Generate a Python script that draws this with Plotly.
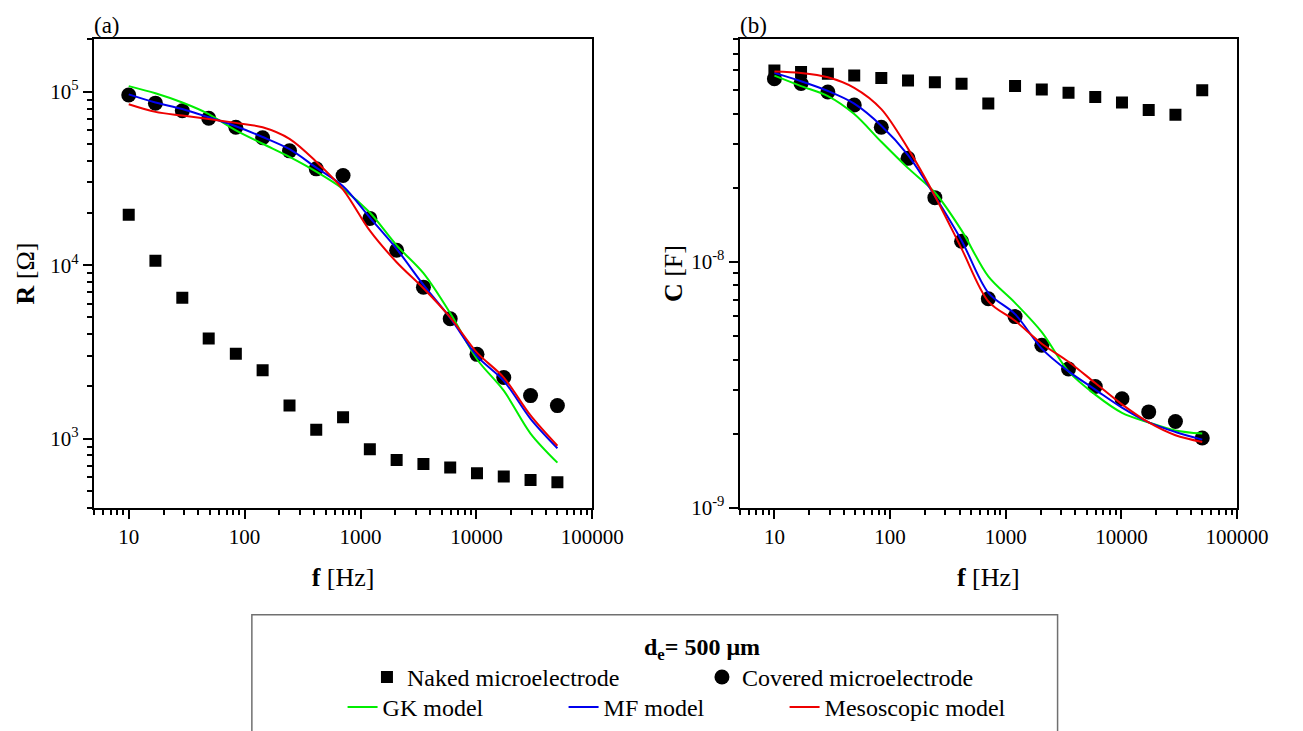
import math
import plotly.graph_objects as go

# ---------------- data ----------------
freq = [10, 17, 29, 49, 84, 143, 244, 415, 707, 1204, 2050, 3491, 5943, 10118, 17226, 29328, 50000]

# (a) resistance R [Ohm]
R_naked = [19500, 10600, 6480, 3775, 3090, 2480, 1550, 1126, 1330, 869, 752, 713, 682, 631, 604, 578, 561]
R_covered = [95700, 85900, 77600, 70300, 62400, 54300, 45600, 35900, 32900, 18600, 12200, 7470, 4910, 3060, 2250, 1770, 1550]
R_gk = [107700, 97900, 86600, 74300, 59800, 50100, 42100, 34600, 27500, 20100, 13000, 9000, 5290, 2870, 1890, 1070, 727]
R_mf = [96500, 86600, 79400, 71200, 63200, 54800, 46600, 36500, 28500, 18800, 12400, 7700, 4960, 2990, 2155, 1300, 880]
R_meso = [84700, 76500, 72800, 69600, 66100, 62400, 53500, 39500, 27300, 15800, 10400, 7360, 5000, 3130, 2250, 1360, 910]

# (b) capacitance C [F]
C_naked = [5.98e-8, 5.90e-8, 5.81e-8, 5.71e-8, 5.58e-8, 5.45e-8, 5.36e-8, 5.28e-8, 4.39e-8,
           5.17e-8, 5.01e-8, 4.86e-8, 4.67e-8, 4.43e-8, 4.13e-8, 3.95e-8, 4.97e-8]
C_covered = [5.54e-8, 5.30e-8, 4.89e-8, 4.33e-8, 3.52e-8, 2.63e-8, 1.82e-8, 1.21e-8, 7.07e-9,
             5.98e-9, 4.57e-9, 3.66e-9, 3.11e-9, 2.77e-9, 2.45e-9, 2.24e-9, 1.92e-9]
C_gk = [5.70e-8, 5.17e-8, 4.71e-8, 3.98e-8, 3.07e-8, 2.40e-8, 1.91e-8, 1.34e-8, 8.71e-9,
        6.8e-9, 5.17e-9, 3.58e-9, 2.88e-9, 2.43e-9, 2.22e-9, 2.06e-9, 2.0e-9]
C_mf = [5.85e-8, 5.41e-8, 4.94e-8, 4.39e-8, 3.57e-8, 2.71e-8, 1.85e-8, 1.22e-8, 7.47e-9,
        6.12e-9, 4.43e-9, 3.58e-9, 3.02e-9, 2.55e-9, 2.22e-9, 2.03e-9, 1.89e-9]
C_meso = [5.93e-8, 5.85e-8, 5.62e-8, 5.09e-8, 4.17e-8, 2.88e-8, 1.85e-8, 1.13e-8, 6.9e-9,
          5.75e-9, 4.64e-9, 3.92e-9, 3.21e-9, 2.63e-9, 2.22e-9, 1.97e-9, 1.85e-9]

x_tickvals = [10, 100, 1000, 10000, 100000]
x_ticktext = ["10", "100", "1000", "10000", "100000"]
Ra_tickvals = [1e3, 1e4, 1e5]
Ra_ticktext = ["10<sup>3</sup>", "10<sup>4</sup>", "10<sup>5</sup>"]
Cb_tickvals = [1e-9, 1e-8]
Cb_ticktext = ["10<sup>-9</sup>", "10<sup>-8</sup>"]

names = ["Naked microelectrode", "Covered microelectrode", "GK model", "MF model", "Mesoscopic model"]
legend_title = "<b>d<sub>e</sub>= 500 μm</b>"

# ---------------- style ----------------
W, H = 1303, 731
FONT = "Liberation Serif"
GREEN, BLUE, RED = "#00ee00", "#0000ee", "#ee0000"


def minor_vals(lo_exp, hi_exp, lo, hi):
    out = []
    for e in range(lo_exp, hi_exp + 1):
        for m in range(2, 10):
            v = m * 10 ** e
            if lo <= v <= hi:
                out.append(v)
    return out


x_minor = minor_vals(0, 4, 5, 100000)
Ra_minor = minor_vals(2, 5, 400, 2e5)
Cb_minor = minor_vals(-9, -8, 1e-9, 8e-8)

fig = go.Figure()

# panel (a)
fig.add_trace(go.Scatter(x=freq, y=R_naked, mode="markers", name=names[0],
                         marker=dict(symbol="square", size=12, color="black"),
                         xaxis="x", yaxis="y", legend="legend"))
fig.add_trace(go.Scatter(x=freq, y=R_covered, mode="markers", name=names[1],
                         marker=dict(symbol="circle", size=15, color="black"),
                         xaxis="x", yaxis="y", legend="legend"))
for vals, col, nm in [(R_gk, GREEN, names[2]), (R_mf, BLUE, names[3]), (R_meso, RED, names[4])]:
    fig.add_trace(go.Scatter(x=freq, y=vals, mode="lines", name=nm,
                             line=dict(color=col, width=2, shape="spline", smoothing=0.9),
                             xaxis="x", yaxis="y", legend="legend2"))

# panel (b)
fig.add_trace(go.Scatter(x=freq, y=C_naked, mode="markers", name=names[0], showlegend=False,
                         marker=dict(symbol="square", size=12, color="black"),
                         xaxis="x2", yaxis="y2"))
fig.add_trace(go.Scatter(x=freq, y=C_covered, mode="markers", name=names[1], showlegend=False,
                         marker=dict(symbol="circle", size=15, color="black"),
                         xaxis="x2", yaxis="y2"))
for vals, col, nm in [(C_gk, GREEN, names[2]), (C_mf, BLUE, names[3]), (C_meso, RED, names[4])]:
    fig.add_trace(go.Scatter(x=freq, y=vals, mode="lines", name=nm, showlegend=False,
                             line=dict(color=col, width=2, shape="spline", smoothing=0.9),
                             xaxis="x2", yaxis="y2"))

xa_dom = [88 / W, 599 / W]
xb_dom = [750 / W, 1260 / W]
y_dom = [1 - 508 / H, 1 - 32 / H]
x_range = [math.log10(5), 5]
Ra_range = [math.log10(400), math.log10(2e5)]
Cb_range = [-9, math.log10(8e-8)]

tickfont = dict(family=FONT, size=21, color="black")
titlefont = dict(family=FONT, size=26, color="black")


def main_axis(domain, anchor, rng, tv, tt, minor, title, standoff):
    return dict(domain=domain, anchor=anchor, type="log", range=rng,
                tickmode="array", tickvals=tv, ticktext=tt, tickfont=tickfont,
                ticks="outside", ticklen=9, tickwidth=1.5, tickcolor="black",
                minor=dict(tickmode="array", tickvals=minor, ticks="outside", ticklen=5,
                           tickwidth=1.5, tickcolor="black", showgrid=False),
                showline=True, linewidth=2, linecolor="black", mirror=True,
                showgrid=False, zeroline=False,
                title=dict(text=title, font=titlefont, standoff=standoff))


def mirror_axis(overlay, anchor, side, rng, tv, minor):
    return dict(overlaying=overlay, anchor=anchor, side=side, type="log", range=rng,
                tickmode="array", tickvals=tv, showticklabels=False,
                ticks="inside", ticklen=9, tickwidth=1.5, tickcolor="black",
                minor=dict(tickmode="array", tickvals=minor, ticks="inside", ticklen=5,
                           tickwidth=1.5, tickcolor="black", showgrid=False),
                showline=False, showgrid=False, zeroline=False)


fig.update_layout(
    width=W, height=H,
    margin=dict(l=0, r=0, t=0, b=0),
    paper_bgcolor="white", plot_bgcolor="white",
    font=dict(family=FONT, color="black"),
    xaxis=main_axis(xa_dom, "y", x_range, x_tickvals, x_ticktext, x_minor, "<b>f</b> [Hz]", 20),
    yaxis=main_axis(y_dom, "x", Ra_range, Ra_tickvals, Ra_ticktext, Ra_minor, "<b>R</b> [Ω]", 8),
    xaxis2=main_axis(xb_dom, "y2", x_range, x_tickvals, x_ticktext, x_minor, "<b>f</b> [Hz]", 20),
    yaxis2=main_axis(y_dom, "x2", Cb_range, Cb_tickvals, Cb_ticktext, Cb_minor, "<b>C</b> [F]", 1),
    xaxis3=mirror_axis("x", "y", "top", x_range, x_tickvals, x_minor),
    yaxis3=mirror_axis("y", "x", "right", Ra_range, Ra_tickvals, Ra_minor),
    xaxis4=mirror_axis("x2", "y2", "top", x_range, x_tickvals, x_minor),
    yaxis4=mirror_axis("y2", "x2", "right", Cb_range, Cb_tickvals, Cb_minor),
    legend=dict(orientation="h", x=368 / W, xanchor="left", y=1 - 626 / H, yanchor="top",
                entrywidth=290, entrywidthmode="pixels",
                title=dict(text=legend_title, side="top center", font=dict(family=FONT, size=24)),
                font=dict(family=FONT, size=24, color="black"),
                bgcolor="rgba(0,0,0,0)", borderwidth=0),
    legend2=dict(orientation="h", x=343 / W, xanchor="left", y=1 - 711 / H, yanchor="middle",
                 entrywidth=176, entrywidthmode="pixels",
                 font=dict(family=FONT, size=24, color="black"),
                 bgcolor="rgba(0,0,0,0)", borderwidth=0),
    annotations=[
        dict(text="(a)", x=86 / W, y=1 - 18 / H, xref="paper", yref="paper",
             xanchor="left", yanchor="middle", showarrow=False,
             font=dict(family=FONT, size=23, color="black")),
        dict(text="(b)", x=748 / W, y=1 - 18 / H, xref="paper", yref="paper",
             xanchor="left", yanchor="middle", showarrow=False,
             font=dict(family=FONT, size=23, color="black")),
    ],
    shapes=[
        dict(type="rect", xref="paper", yref="paper",
             x0=250 / W, x1=1076 / W, y0=-0.05, y1=1 - 617 / H,
             line=dict(color="#707070", width=1.5), fillcolor="rgba(0,0,0,0)"),
    ],
)

fig.write_html("out.html")
